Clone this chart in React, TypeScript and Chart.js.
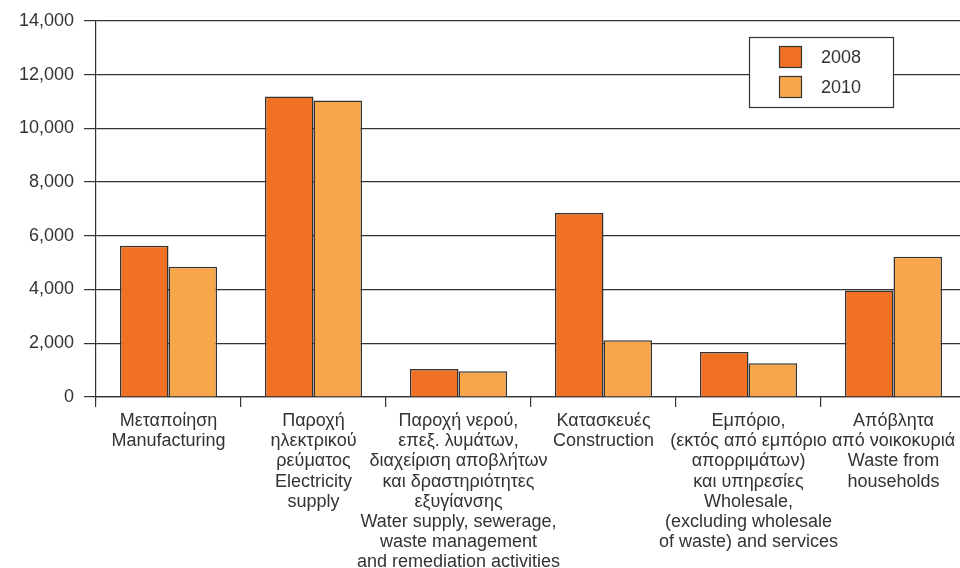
import React, { useEffect, useRef } from "react";
import { Chart, registerables } from "chart.js";

Chart.register(...registerables);

const categories: string[][] = [
  ["Μεταποίηση", "Manufacturing"],
  ["Παροχή", "ηλεκτρικού", "ρεύματος", "Electricity", "supply"],
  ["Παροχή νερού,", "επεξ. λυμάτων,", "διαχείριση αποβλήτων", "και δραστηριότητες", "εξυγίανσης", "Water supply, sewerage,", "waste management", "and remediation activities"],
  ["Κατασκευές", "Construction"],
  ["Εμπόριο,", "(εκτός από εμπόριο", "απορριμάτων)", "και υπηρεσίες", "Wholesale,", "(excluding wholesale", "of waste) and services"],
  ["Απόβλητα", "από νοικοκυριά", "Waste from", "households"],
];

const values2008: number[] = [5630, 11180, 1040, 6850, 1670, 3960];
const values2010: number[] = [4850, 11030, 960, 2110, 1260, 5220];
const seriesLabels: string[] = ["2008", "2010"];
const yTicks: number[] = [0, 2000, 4000, 6000, 8000, 10000, 12000, 14000];

const COLOR_2008 = "#F07024";
const COLOR_2010 = "#F8A64B";
const INK = "#333333";
const FONT = "'Liberation Sans', Arial, Helvetica, sans-serif";

const legendPlugin = {
  id: "boxLegend",
  afterDraw(chart: any) {
    const ctx = chart.ctx;
    const x = 749, y = 37, w = 144, h = 70;
    ctx.save();
    ctx.fillStyle = "#ffffff";
    ctx.fillRect(x, y, w, h);
    ctx.strokeStyle = INK;
    ctx.lineWidth = 1.2;
    ctx.strokeRect(x + 0.5, y + 0.5, w, h);
    const colors = [COLOR_2008, COLOR_2010];
    chart.data.datasets.forEach((ds: any, i: number) => {
      const sy = 46 + i * 30;
      ctx.fillStyle = colors[i];
      ctx.fillRect(779, sy, 23, 22);
      ctx.strokeStyle = INK;
      ctx.lineWidth = 1.2;
      ctx.strokeRect(779.5, sy + 0.5, 22, 21);
      ctx.fillStyle = INK;
      ctx.font = `18px ${FONT}`;
      ctx.textBaseline = "middle";
      ctx.textAlign = "left";
      ctx.fillText(ds.label, 821, sy + 12);
    });
    ctx.restore();
  },
};

export default function App() {
  const ref = useRef<HTMLCanvasElement | null>(null);

  useEffect(() => {
    document.body.style.margin = "0";
    const canvas = ref.current!;
    const chart = new Chart(canvas, {
      type: "bar",
      data: {
        labels: categories,
        datasets: [
          {
            label: seriesLabels[0],
            data: values2008,
            backgroundColor: COLOR_2008,
            borderColor: INK,
            borderWidth: 1.5,
          },
          {
            label: seriesLabels[1],
            data: values2010,
            backgroundColor: COLOR_2010,
            borderColor: INK,
            borderWidth: 1.5,
          },
        ],
      },
      options: {
        responsive: false,
        animation: false,
        devicePixelRatio: 1,
        layout: { padding: { top: 18, left: 0, right: 0, bottom: 0 } },
        datasets: { bar: { categoryPercentage: 0.67, barPercentage: 1 } },
        plugins: {
          legend: { display: false },
          tooltip: { enabled: false },
        },
        scales: {
          x: {
            offset: true,
            grid: {
              offset: true,
              drawOnChartArea: false,
              drawTicks: true,
              tickLength: 10,
              color: INK,
              lineWidth: 1.2,
            },
            border: { display: true, color: INK, width: 1.2 },
            ticks: {
              autoSkip: false,
              maxRotation: 0,
              minRotation: 0,
              padding: 4,
              color: INK,
              font: { family: FONT, size: 18, lineHeight: 1.12 },
            },
            afterFit(scale: any) {
              scale.height = 171;
            },
          },
          y: {
            min: 0,
            max: 14000,
            afterBuildTicks(scale: any) {
              scale.ticks = yTicks.map((v) => ({ value: v }));
            },
            grid: {
              color: INK,
              lineWidth: 1.2,
              tickLength: 12,
              drawTicks: true,
            },
            border: { display: true, color: INK, width: 1.2 },
            ticks: {
              padding: 10,
              color: INK,
              font: { family: FONT, size: 18 },
              callback: (v: any) => Number(v).toLocaleString("en-US"),
            },
            afterFit(scale: any) {
              scale.width = 96;
            },
          },
        },
      },
      plugins: [legendPlugin],
    });
    return () => chart.destroy();
  }, []);

  return (
    <div style={{ width: 960, height: 568, overflow: "hidden", background: "#fff" }}>
      <canvas ref={ref} width={966} height={568} style={{ display: "block" }} />
    </div>
  );
}
